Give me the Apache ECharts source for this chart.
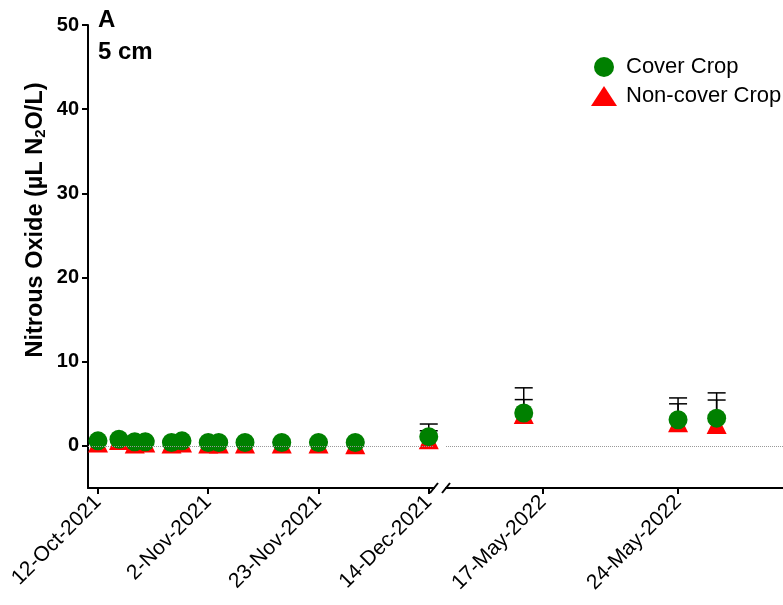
<!DOCTYPE html>
<html><head><meta charset="utf-8">
<script src="https://cdn.jsdelivr.net/npm/echarts@6/dist/echarts.min.js"></script>
<style>html,body{margin:0;padding:0;background:#fff}#c{width:783px;height:605px}</style>
</head><body><div id="c"></div>
<script>
// ---- data ----
const sampleDates = ['2021-10-12','2021-10-16','2021-10-19','2021-10-21','2021-10-26','2021-10-28','2021-11-02','2021-11-04','2021-11-09','2021-11-16','2021-11-23','2021-11-30','2021-12-14','2022-05-16','2022-05-24','2022-05-26'];
const coverCrop      = [0.6,0.8,0.5,0.5,0.4,0.6,0.4,0.4,0.4,0.4,0.4,0.4,1.1,3.9,3.1,3.3];
const coverCropErr   = [0.2,0.2,0.2,0.2,0.2,0.2,0.2,0.2,0.1,0.1,0.1,0.1,1.5,3.0,2.6,3.0];
const nonCoverCrop   = [0.4,0.7,0.3,0.4,0.3,0.4,0.3,0.3,0.3,0.3,0.3,0.2,0.8,3.8,2.8,2.6];
const nonCoverCropErr= [0.2,0.2,0.2,0.2,0.2,0.2,0.2,0.2,0.1,0.1,0.1,0.1,1.0,1.7,2.2,2.85];
const tickDates  = ['2021-10-12','2021-11-02','2021-11-23','2021-12-14','2022-05-17','2022-05-24'];
const tickLabels = ['12-Oct-2021','2-Nov-2021','23-Nov-2021','14-Dec-2021','17-May-2022','24-May-2022'];
const yTicks = [0,10,20,30,40,50];

// ---- helpers ----
const DAY = 86400000;
const T0 = Date.UTC(2021,9,12);
function dayOf(s){const p=s.split('-').map(Number);return (Date.UTC(p[0],p[1]-1,p[2])-T0)/DAY;}
const SPLIT = dayOf('2022-01-01');
const xs = sampleDates.map(dayOf);
const ticks = tickDates.map(dayOf);
const ticks1 = ticks.filter(d=>d<SPLIT), ticks2 = ticks.filter(d=>d>=SPLIT);
function labelFor(v){const i=ticks.findIndex(t=>Math.abs(t-v)<1e-6);return i>=0?tickLabels[i]:'';}
function seg(vals, errs, first){
  const out=[];
  xs.forEach((x,i)=>{ if((x<SPLIT)===first) out.push(errs?[x,vals[i],errs[i]]:[x,vals[i]]); });
  return out;
}

const FONT='Liberation Sans, Arial, sans-serif';
const GREEN='#008000', RED='#ff0000';

function errRender(params, api){
  const x=api.value(0), y=api.value(1), e=api.value(2);
  const p0=api.coord([x,y]), p1=api.coord([x,y+e]);
  const w=9;
  return {type:'group', children:[
    {type:'line', shape:{x1:p0[0],y1:p0[1],x2:p1[0],y2:p1[1]}, style:{stroke:'#000',lineWidth:1.5}},
    {type:'line', shape:{x1:p1[0]-w,y1:p1[1],x2:p1[0]+w,y2:p1[1]}, style:{stroke:'#000',lineWidth:1.5}}
  ]};
}

function xAxisCfg(grid, min, max, tv){
  return {gridIndex:grid, type:'value', min:min, max:max,
    axisLine:{show:true,onZero:false,lineStyle:{color:'#000',width:2}},
    axisTick:{show:true,customValues:tv,length:6,lineStyle:{color:'#000',width:2}},
    axisLabel:{show:true,customValues:tv,rotate:45,margin:11,color:'#000',fontSize:21,fontFamily:FONT,formatter:v=>labelFor(v)},
    splitLine:{show:false}};
}
const zeroLine = {silent:true, symbol:'none', label:{show:false},
  lineStyle:{color:'#999',type:'dotted',width:1}, data:[{yAxis:0}]};

const chart = echarts.init(document.getElementById('c'), null, {renderer:'canvas'});
const d217 = dayOf('2022-05-17');
chart.setOption({
  animation:false,
  backgroundColor:'#fff',
  title:[
    {text:'A', left:98, top:8, padding:0, textStyle:{fontSize:24,fontWeight:'bold',color:'#000',fontFamily:FONT}},
    {text:'5 cm', left:98, top:40, padding:0, textStyle:{fontSize:24,fontWeight:'bold',color:'#000',fontFamily:FONT}}
  ],
  legend:{orient:'vertical', left:586, top:51, itemWidth:26, itemHeight:20, itemGap:7,
    data:['Cover Crop','Non-cover Crop'],
    textStyle:{fontSize:22,color:'#000',fontFamily:FONT,padding:[0,0,0,4]}},
  grid:[
    {left:88, top:25, width:346, height:463},
    {left:446, top:25, width:337, height:463}
  ],
  xAxis:[
    xAxisCfg(0, -1.9, 64, ticks1),
    xAxisCfg(1, d217-5.03, d217+12.44, ticks2)
  ],
  yAxis:[
    {gridIndex:0, type:'value', min:-5, max:50,
      axisLine:{show:true,onZero:false,lineStyle:{color:'#000',width:2}},
      axisTick:{show:true,customValues:yTicks,length:6,lineStyle:{color:'#000',width:2}},
      axisLabel:{customValues:yTicks,margin:9,color:'#000',fontSize:20,fontWeight:'bold',fontFamily:FONT},
      splitLine:{show:false},
      name:'{a|Nitrous Oxide (µL N}{s|2}{a|O/L)}', nameLocation:'middle', nameRotate:90, nameGap:40,
      nameTextStyle:{padding:[0,0,0,73], rich:{
        a:{fontSize:23.5,fontWeight:'bold',color:'#000',fontFamily:FONT},
        s:{fontSize:15,fontWeight:'bold',color:'#000',fontFamily:FONT,padding:[10,0,0,0]}}}},
    {gridIndex:1, type:'value', min:-5, max:50, show:false, splitLine:{show:false}}
  ],
  series:[
    {type:'custom', name:'errNC1', xAxisIndex:0, yAxisIndex:0, renderItem:errRender, encode:{x:0,y:1}, data:seg(nonCoverCrop,nonCoverCropErr,true), z:1, silent:true},
    {type:'custom', name:'errC1', xAxisIndex:0, yAxisIndex:0, renderItem:errRender, encode:{x:0,y:1}, data:seg(coverCrop,coverCropErr,true), z:1, silent:true},
    {type:'custom', name:'errNC2', xAxisIndex:1, yAxisIndex:1, renderItem:errRender, encode:{x:0,y:1}, data:seg(nonCoverCrop,nonCoverCropErr,false), z:1, silent:true},
    {type:'custom', name:'errC2', xAxisIndex:1, yAxisIndex:1, renderItem:errRender, encode:{x:0,y:1}, data:seg(coverCrop,coverCropErr,false), z:1, silent:true},
    {type:'scatter', name:'Non-cover Crop', xAxisIndex:0, yAxisIndex:0, symbol:'triangle', symbolSize:20, itemStyle:{color:RED,opacity:1}, data:seg(nonCoverCrop,null,true), z:2, markLine:zeroLine},
    {type:'scatter', name:'Non-cover Crop', xAxisIndex:1, yAxisIndex:1, symbol:'triangle', symbolSize:20, itemStyle:{color:RED,opacity:1}, data:seg(nonCoverCrop,null,false), z:2, markLine:zeroLine},
    {type:'scatter', name:'Cover Crop', xAxisIndex:0, yAxisIndex:0, symbol:'circle', symbolSize:19, itemStyle:{color:GREEN,opacity:1}, data:seg(coverCrop,null,true), z:3},
    {type:'scatter', name:'Cover Crop', xAxisIndex:1, yAxisIndex:1, symbol:'circle', symbolSize:19, itemStyle:{color:GREEN,opacity:1}, data:seg(coverCrop,null,false), z:3}
  ]
});
// axis break marks "//" at segment ends
const xEnd1 = chart.convertToPixel({xAxisIndex:0}, 64);
const xStart2 = chart.convertToPixel({xAxisIndex:1}, d217-5.03);
const yAx = chart.convertToPixel({yAxisIndex:0}, -5);
function slash(x){return {type:'line', shape:{x1:x-4,y1:yAx+5,x2:x+4,y2:yAx-5}, style:{stroke:'#000',lineWidth:2}};}
chart.setOption({graphic:[
  {type:'rect', shape:{x:xEnd1-1,y:yAx-3,width:xStart2-xEnd1+2,height:6}, style:{fill:'#fff'}},
  slash(xEnd1), slash(xStart2)
]});
</script></body></html>
